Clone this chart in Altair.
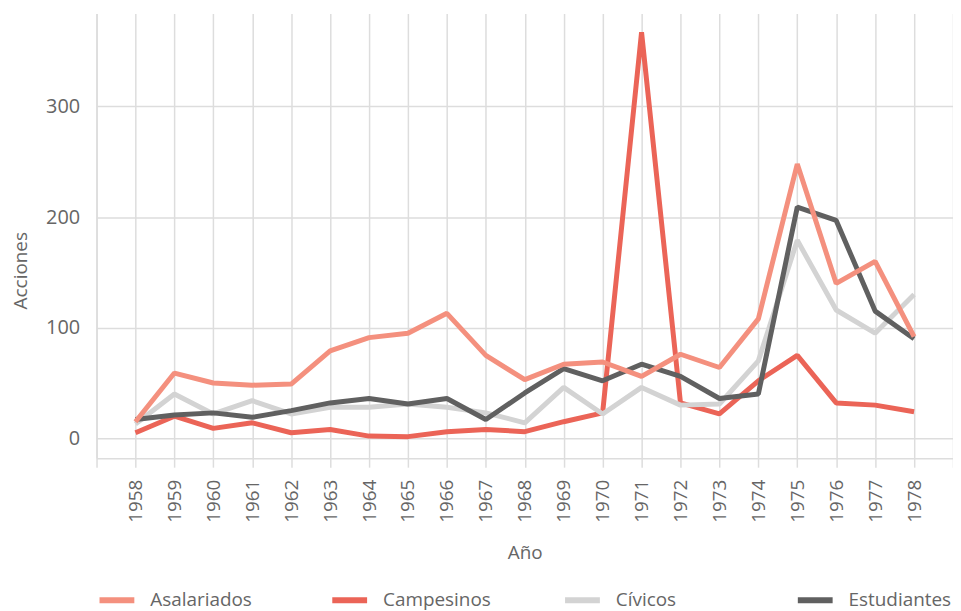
import altair as alt
import pandas as pd

years = list(range(1958, 1979))
asalariados = [15, 59, 50, 48, 49, 79, 91, 95, 113, 75, 53, 67, 69, 56, 76, 64, 108, 248, 140, 160, 92]
campesinos = [5, 20, 9, 14, 5, 8, 2, 1.5, 6, 8, 6, 15, 23, 367, 32, 22, 52, 75, 32, 30, 24]
civicos = [13, 40, 22, 34, 22, 28, 28, 31, 28, 23, 14, 46, 22, 46, 30, 31, 70, 179, 116, 95, 130]
estudiantes = [17, 21, 23, 19, 25, 32, 36, 31, 36, 17, 41, 63, 52, 67, 56, 36, 40, 209, 197, 115, 90]

series_names = ["Asalariados", "Campesinos", "Cívicos", "Estudiantes"]
series_colors = ["#F4907E", "#EB6457", "#D3D3D3", "#606060"]

# draw order (bottom to top)
draw = [("Campesinos", campesinos), ("Cívicos", civicos),
        ("Estudiantes", estudiantes), ("Asalariados", asalariados)]
rows = []
for order, (name, vals) in enumerate(draw):
    for y, v in zip(years, vals):
        rows.append({"Año": y, "Acciones": v, "Serie": name, "o": order})
df = pd.DataFrame(rows)

FONT = "Open Sans"
TXT = "#666666"
GRID = "#DDDDDD"

x_vals = list(range(1957, 1980))

chart = alt.Chart(df).mark_line(strokeWidth=5, strokeJoin="bevel").encode(
    x=alt.X("Año:Q",
            scale=alt.Scale(domain=[1957, 1979], nice=False, zero=False),
            axis=alt.Axis(values=x_vals, labelExpr="datum.value == 1957 || datum.value == 1979 ? '' : datum.value",
                          format="d", labelAngle=-90, labelAlign="right", labelBaseline="middle",
                          labelPadding=12, tickSize=9, tickColor=GRID, tickWidth=1.5,
                          grid=True, gridColor=GRID, gridWidth=1.5,
                          domainColor=GRID, domainWidth=1.5,
                          labelFont=FONT, labelFontSize=19, labelColor=TXT,
                          title="Año", titleFont=FONT, titleFontSize=19, titleColor=TXT,
                          titleFontWeight="normal", titleY=95, titleBaseline="middle")),
    y=alt.Y("Acciones:Q",
            scale=alt.Scale(domain=[-18, 384], nice=False, zero=False),
            axis=alt.Axis(values=[0, 100, 200, 300], ticks=False, labelPadding=17,
                          grid=True, gridColor=GRID, gridWidth=1.5,
                          domainColor=GRID, domainWidth=1.5,
                          labelFont=FONT, labelFontSize=20, labelColor=TXT,
                          title="Acciones", titleFont=FONT, titleFontSize=19, titleColor=TXT,
                          titleFontWeight="normal", titleX=-76, titleY=258,
                          titleBaseline="middle", titleAngle=-90)),
    color=alt.Color("Serie:N",
                    scale=alt.Scale(domain=series_names, range=series_colors),
                    legend=alt.Legend(orient="none", legendX=0, legendY=569, direction="horizontal",
                                      title=None, columns=4, gridAlign="all", columnPadding=62,
                                      symbolType="stroke", symbolSize=1225, symbolStrokeWidth=6,
                                      labelOffset=13, labelFont=FONT, labelFontSize=19,
                                      labelColor=TXT, padding=0)),
    order=alt.Order("o:Q"),
    detail="o:Q",
).properties(
    width=861, height=447,
    autosize=alt.AutoSizeParams(type="none"),
    padding={"left": 89, "top": 4, "right": 0, "bottom": 152},
).configure_view(stroke=None)

chart.save("out.html", embed_options={"renderer": "svg", "actions": False})
